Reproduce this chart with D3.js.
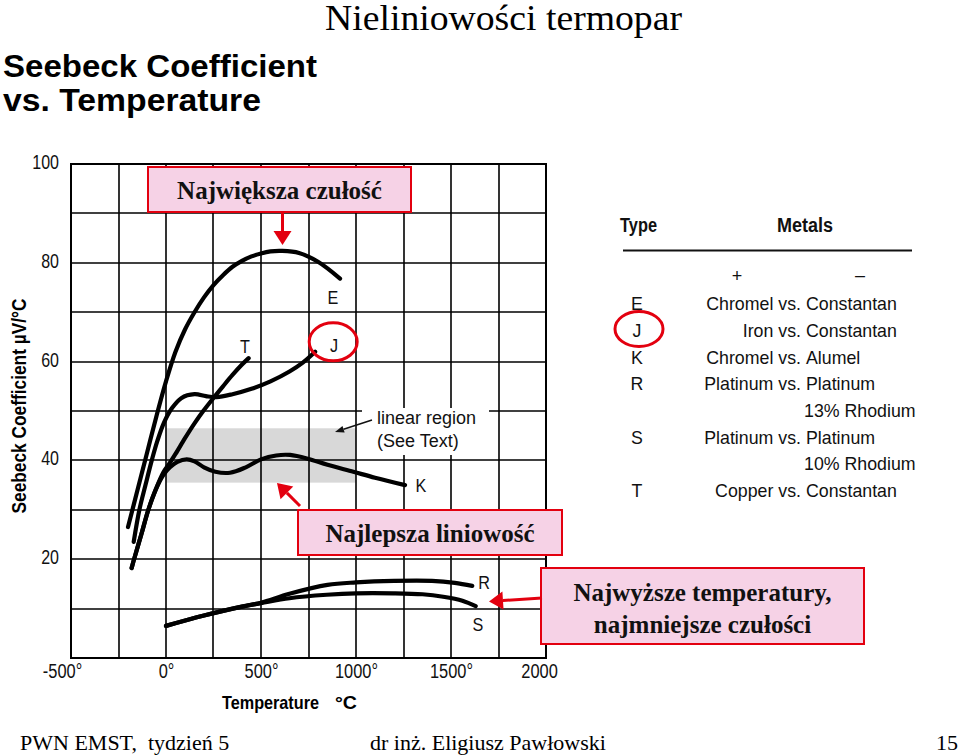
<!DOCTYPE html>
<html>
<head>
<meta charset="utf-8">
<script src="https://cdn.jsdelivr.net/npm/d3@7"></script>
<style>
  body { margin: 0; background: #fff; }
  svg { display: block; }
</style>
</head>
<body>
<svg id="chart" width="960" height="755"></svg>
<script>
// axis ticks
const temperatureTicks = [-500, 0, 500, 1000, 1500, 2000];
const temperatureTickLabels = ["-500°", "0°", "500°", "1000°", "1500°", "2000"];
const coefficientTicks = [20, 40, 60, 80, 100];

// Seebeck coefficient (uV/C) vs temperature (C)
const curveE = [[-200, 26.5], [-150, 34], [-100, 41.5], [-50, 49], [0, 56], [50, 62], [100, 66.5], [150, 70], [200, 73], [250, 75.5], [300, 77.5], [350, 79.2], [400, 80.4], [450, 81.3], [500, 81.9], [550, 82.3], [609, 82.4], [700, 82], [800, 80.2], [916, 76.8]];
const curveJ = [[-170, 23.5], [-140, 30], [-108, 35], [-75, 40], [-45, 44], [-10, 47.7], [30, 50.5], [80, 52.6], [150, 53.4], [210, 53], [267, 52.8], [350, 53.4], [450, 54.5], [550, 56], [650, 58], [720, 59.8], [785, 62]];
const curveT = [[-181, 18.2], [-168, 20], [-130, 25], [-93, 30], [-55, 34], [-15, 37.5], [20, 39.5], [50, 41.3], [100, 44.5], [150, 47.5], [196, 50], [249, 52.6], [300, 55], [350, 57.3], [400, 59.4], [435, 60.7]];
const curveK = [[-181, 18.2], [-168, 20], [-130, 25], [-93, 30], [-55, 34], [-15, 37], [21, 38.6], [60, 39.7], [109, 40.2], [150, 39.8], [200, 38.6], [260, 37.7], [337, 37.5], [420, 38.6], [500, 40.2], [580, 41], [653, 41.1], [750, 40.3], [850, 39.1], [986, 37.7], [1100, 36.5], [1258, 35]];
const curveR = [[0, 6.5], [200, 8.6], [400, 10.4], [500, 11.2], [650, 13], [850, 14.8], [1000, 15.3], [1200, 15.6], [1400, 15.6], [1520, 15.2], [1612, 14.6]];
const curveS = [[0, 6.5], [200, 8.6], [400, 10.4], [500, 11.1], [650, 12.1], [846, 12.8], [1000, 13.1], [1196, 13.1], [1350, 12.9], [1459, 12.4], [1560, 11.6], [1630, 10.5]];

// linear region band: temperature from/to, coefficient from/to
const linearBandT = [0, 1000];
const linearBandV = [35.5, 46.5];

// thermocouple table
const tableTypes = ["E", "J", "K", "R", "S", "T"];
const tablePlus = ["Chromel vs.", "Iron vs.", "Chromel vs.", "Platinum vs.", "Platinum vs.", "Copper vs."];
const tableMinus = ["Constantan", "Constantan", "Alumel", "Platinum", "Platinum", "Constantan"];
const tableMinusExtra = ["", "", "", "13% Rhodium", "10% Rhodium", ""];

const svg = d3.select("#chart");
const sans = "'Liberation Sans', Arial, sans-serif";
const serif = "'Liberation Serif', 'Times New Roman', serif";

// squeeze a text horizontally, the reference uses a condensed face
function squeeze(sel, factor) {
  sel.each(function () {
    const len = this.getComputedTextLength();
    d3.select(this).attr("textLength", len * factor).attr("lengthAdjust", "spacingAndGlyphs");
  });
}

const x = d3.scaleLinear().domain([-500, 2000]).range([71, 546]);
const y = d3.scaleLinear().domain([0, 100]).range([658, 164]);

// gray linear band
svg.append("rect")
  .attr("x", x(linearBandT[0]))
  .attr("y", y(linearBandV[1]))
  .attr("width", x(linearBandT[1]) - x(linearBandT[0]))
  .attr("height", y(linearBandV[0]) - y(linearBandV[1]))
  .attr("fill", "#d8d8d8");

// grid
const grid = svg.append("g").attr("stroke", "#000").attr("stroke-width", 1.6);
grid.selectAll(".vx")
  .data(d3.range(-500, 2001, 250))
  .enter()
  .append("line")
  .attr("x1", (d) => Math.round(x(d)))
  .attr("x2", (d) => Math.round(x(d)))
  .attr("y1", y(100))
  .attr("y2", y(0));
grid.selectAll(".hy")
  .data(d3.range(0, 101, 10))
  .enter()
  .append("line")
  .attr("x1", x(-500))
  .attr("x2", x(2000))
  .attr("y1", (d) => Math.round(y(d)))
  .attr("y2", (d) => Math.round(y(d)));
svg.append("rect")
  .attr("x", x(-500))
  .attr("y", y(100))
  .attr("width", x(2000) - x(-500))
  .attr("height", y(0) - y(100))
  .attr("fill", "none")
  .attr("stroke", "#000")
  .attr("stroke-width", 2);

// white patch behind "linear region" note
svg.append("rect")
  .attr("x", 362).attr("y", 408)
  .attr("width", 127).attr("height", 47)
  .attr("fill", "#fff");

// axes (labels only)
const xAxis = d3.axisBottom(x)
  .tickValues(temperatureTicks)
  .tickFormat((d, i) => temperatureTickLabels[i])
  .tickSize(0)
  .tickPadding(6);
const gx = svg.append("g").attr("transform", `translate(0, ${y(0)})`).call(xAxis);
gx.select(".domain").remove();
gx.selectAll("text")
  .attr("font-family", sans)
  .attr("font-size", 20)
  .attr("fill", "#111")
  .attr("dx", (d, i) => (i === 0 ? -9 : i === temperatureTicks.length - 1 ? -7 : 0))
  .call(squeeze, 0.82);

const yAxis = d3.axisLeft(y).tickValues(coefficientTicks).tickSize(0).tickPadding(12);
const gy = svg.append("g").attr("transform", `translate(${x(-500)}, 0)`).call(yAxis);
gy.select(".domain").remove();
gy.selectAll("text")
  .attr("font-family", sans)
  .attr("font-size", 20)
  .attr("fill", "#111")
  .attr("dy", "0.22em")
  .call(squeeze, 0.8);

// curves
const line = d3.line()
  .x((d) => x(d[0]))
  .y((d) => y(d[1]))
  .curve(d3.curveCatmullRom.alpha(0.5));

const curves = [curveR, curveS, curveK, curveT, curveJ, curveE];
svg.selectAll(".curve")
  .data(curves)
  .enter()
  .append("path")
  .attr("class", "curve")
  .attr("d", line)
  .attr("fill", "none")
  .attr("stroke", "#000")
  .attr("stroke-width", 4.2)
  .attr("stroke-linecap", "round")
  .attr("stroke-linejoin", "round");

// curve letters
const letters = svg.append("g")
  .attr("font-family", sans)
  .attr("font-size", 18)
  .attr("text-anchor", "middle")
  .attr("fill", "#111");
letters.append("text").attr("x", x(879)).attr("y", y(71.7)).text("E");
letters.append("text").attr("x", x(416)).attr("y", y(61.7)).text("T");
letters.append("text").attr("x", x(884)).attr("y", y(61.9)).text("J");
letters.append("text").attr("x", x(1342)).attr("y", y(33.7)).text("K");
letters.append("text").attr("x", x(1674)).attr("y", y(13.9)).text("R");
letters.append("text").attr("x", x(1642)).attr("y", y(5.5)).text("S");
letters.selectAll("text").call(squeeze, 0.9);

svg.append("ellipse")
  .attr("cx", x(880)).attr("cy", y(64))
  .attr("rx", 24).attr("ry", 19)
  .attr("fill", "none")
  .attr("stroke", "#e3000f")
  .attr("stroke-width", 3);

// linear region note
svg.append("text")
  .attr("x", 377).attr("y", 424)
  .attr("font-family", sans).attr("font-size", 18).attr("fill", "#111")
  .text("linear region");
svg.append("text")
  .attr("x", 377).attr("y", 447)
  .attr("font-family", sans).attr("font-size", 18).attr("fill", "#111")
  .text("(See Text)");

function arrow(x1, y1, x2, y2, color, width, headLen, headW) {
  const a = Math.atan2(y2 - y1, x2 - x1);
  const bx = x2 - headLen * Math.cos(a);
  const by = y2 - headLen * Math.sin(a);
  svg.append("line")
    .attr("x1", x1).attr("y1", y1)
    .attr("x2", bx).attr("y2", by)
    .attr("stroke", color)
    .attr("stroke-width", width);
  const px = -Math.sin(a) * headW / 2;
  const py = Math.cos(a) * headW / 2;
  svg.append("path")
    .attr("d", `M${x2},${y2}L${bx + px},${by + py}L${bx - px},${by - py}Z`)
    .attr("fill", color);
}

arrow(372, 420, 335, 432, "#111", 1.5, 9, 7);

// titles
svg.append("text")
  .attr("x", 325).attr("y", 30)
  .attr("font-family", serif).attr("font-size", 35).attr("fill", "#000")
  .attr("textLength", 357).attr("lengthAdjust", "spacingAndGlyphs")
  .text("Nieliniowości termopar");

svg.append("text")
  .attr("x", 3).attr("y", 77)
  .attr("font-family", sans).attr("font-weight", "bold").attr("font-size", 31)
  .attr("textLength", 314).attr("lengthAdjust", "spacingAndGlyphs")
  .text("Seebeck Coefficient");
svg.append("text")
  .attr("x", 3).attr("y", 111)
  .attr("font-family", sans).attr("font-weight", "bold").attr("font-size", 31)
  .attr("textLength", 258).attr("lengthAdjust", "spacingAndGlyphs")
  .text("vs. Temperature");

svg.append("text")
  .attr("transform", "translate(26, 406) rotate(-90)")
  .attr("text-anchor", "middle")
  .attr("font-family", sans).attr("font-weight", "bold").attr("font-size", 20)
  .attr("textLength", 215).attr("lengthAdjust", "spacingAndGlyphs")
  .text("Seebeck Coefficient µV/°C");

svg.append("text")
  .attr("x", 222).attr("y", 709)
  .attr("font-family", sans).attr("font-weight", "bold").attr("font-size", 19)
  .attr("textLength", 97).attr("lengthAdjust", "spacingAndGlyphs")
  .text("Temperature");
svg.append("text")
  .attr("x", 335).attr("y", 709)
  .attr("font-family", sans).attr("font-weight", "bold").attr("font-size", 19)
  .attr("textLength", 22).attr("lengthAdjust", "spacingAndGlyphs")
  .text("°C");

// table
const table = svg.append("g").attr("fill", "#111");
table.append("text")
  .attr("x", 620).attr("y", 232)
  .attr("font-family", sans).attr("font-weight", "bold").attr("font-size", 20)
  .attr("textLength", 37).attr("lengthAdjust", "spacingAndGlyphs")
  .text("Type");
table.append("text")
  .attr("x", 777).attr("y", 232)
  .attr("font-family", sans).attr("font-weight", "bold").attr("font-size", 20)
  .attr("textLength", 56).attr("lengthAdjust", "spacingAndGlyphs")
  .text("Metals");
table.append("line")
  .attr("x1", 623).attr("x2", 912)
  .attr("y1", 250.5).attr("y2", 250.5)
  .attr("stroke", "#111").attr("stroke-width", 2);
table.append("text")
  .attr("x", 737).attr("y", 282)
  .attr("font-family", sans).attr("font-size", 18).attr("text-anchor", "middle")
  .text("+");
table.append("text")
  .attr("x", 860).attr("y", 281)
  .attr("font-family", sans).attr("font-size", 18).attr("text-anchor", "middle")
  .text("–");

const rowBase = [310, 337, 363.5, 390, 443.5, 497];
tableTypes.forEach((t, i) => {
  const g = table.append("g").attr("font-family", sans).attr("font-size", 18.5);
  g.append("text").attr("x", 637).attr("y", rowBase[i]).attr("text-anchor", "middle").text(t);
  g.append("text").attr("x", 801).attr("y", rowBase[i]).attr("text-anchor", "end").text(tablePlus[i]);
  g.append("text").attr("x", 806).attr("y", rowBase[i]).text(tableMinus[i]);
  if (tableMinusExtra[i]) {
    g.append("text").attr("x", 804).attr("y", rowBase[i] + 26.5).text(tableMinusExtra[i]);
  }
  g.selectAll("text").call(squeeze, 0.96);
});
table.append("ellipse")
  .attr("cx", 639).attr("cy", 329)
  .attr("rx", 24).attr("ry", 17.5)
  .attr("fill", "none")
  .attr("stroke", "#e3000f")
  .attr("stroke-width", 3);

// callout boxes
function callout(bx, by, bw, bh, lines, baselines) {
  svg.append("rect")
    .attr("x", bx).attr("y", by)
    .attr("width", bw).attr("height", bh)
    .attr("fill", "#f6d2e6")
    .attr("stroke", "#e3000f")
    .attr("stroke-width", 2);
  lines.forEach((s, i) => {
    svg.append("text")
      .attr("x", bx + bw / 2).attr("y", baselines[i])
      .attr("text-anchor", "middle")
      .attr("font-family", serif).attr("font-weight", "bold").attr("font-size", 25)
      .attr("fill", "#111")
      .text(s);
  });
}

callout(148, 167, 263, 45, ["Największa czułość"], [199]);
arrow(282.5, 213, 282.5, 245, "#e3000f", 3, 14, 18);

callout(298, 510, 264, 45, ["Najlepsza liniowość"], [542]);
arrow(300, 506, 277, 483, "#e3000f", 3, 14, 18);

callout(541, 568, 323, 76, ["Najwyższe temperatury,", "najmniejsze czułości"], [601, 633]);
arrow(542, 598, 489, 601.5, "#e3000f", 3, 14, 18);

// footer
const footer = svg.append("g").attr("font-family", serif).attr("font-size", 22).attr("fill", "#000");
footer.append("text").attr("x", 20).attr("y", 750).attr("xml:space", "preserve").text("PWN EMST,  tydzień 5");
footer.append("text").attr("x", 370).attr("y", 750).text("dr inż. Eligiusz Pawłowski");
footer.append("text").attr("x", 958).attr("y", 750).attr("text-anchor", "end").text("15");
</script>
</body>
</html>
